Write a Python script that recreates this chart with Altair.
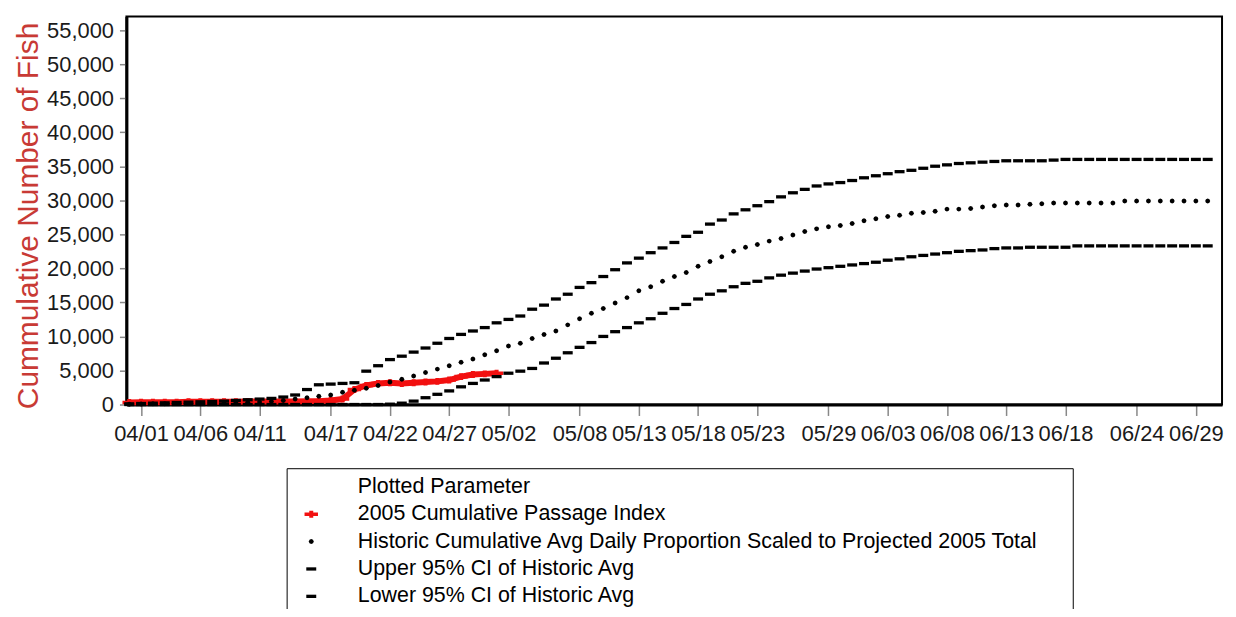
import altair as alt
import pandas as pd

# ---------------- data (values in thousands of fish) -------------
start_date = "2005-03-31"

upper_k = [0.1,
           0.15, 0.2, 0.25, 0.3, 0.35, 0.4, 0.45, 0.5, 0.6, 0.7, 0.8, 0.9, 1.1, 1.4, 2.2,
           2.9, 3.0, 3.1, 3.2, 4.9, 5.7, 6.6, 7.1, 7.7, 8.3, 9.0, 9.7, 10.3, 10.8, 11.3,
           12.0, 12.5, 13.0, 14.0, 14.6, 15.5, 16.2, 17.2, 17.9, 18.8, 19.8, 20.8, 21.5, 22.3, 23.0,
           23.8, 24.7, 25.3, 26.5, 27.1, 28.0, 28.6, 29.2, 29.8, 30.5, 31.1, 31.6, 32.1, 32.4, 32.6, 32.9,
           33.3, 33.6, 33.9, 34.2, 34.4, 34.7, 35.0, 35.2, 35.4, 35.5, 35.6, 35.7, 35.8, 35.8, 35.8,
           35.8, 35.9, 36.0, 36.0, 36.0, 36.0, 36.0, 36.0, 36.0, 36.0, 36.0, 36.0, 36.0, 36.0, 36.0]

mean_k = [0.05,
          0.08, 0.1, 0.12, 0.14, 0.16, 0.18, 0.2, 0.23, 0.27, 0.32, 0.38, 0.45, 0.6, 0.8, 1.0,
          1.2, 1.4, 1.8, 2.1, 2.4, 2.8, 3.3, 3.7, 4.2, 4.7, 5.2, 5.7, 6.2, 6.7, 7.3,
          7.9, 8.6, 9.0, 9.7, 10.3, 10.8, 11.7, 12.6, 13.4, 14.1, 14.9, 15.7, 16.7, 17.3, 18.1,
          18.8, 19.4, 20.3, 21.0, 21.7, 22.5, 23.1, 23.5, 24.0, 24.4, 24.9, 25.4, 25.8, 26.1, 26.3, 26.6,
          27.0, 27.3, 27.6, 27.8, 28.1, 28.2, 28.4, 28.7, 28.7, 28.8, 29.0, 29.2, 29.3, 29.3, 29.4,
          29.5, 29.6, 29.6, 29.6, 29.6, 29.6, 29.6, 29.9, 29.9, 29.9, 29.9, 29.9, 29.9, 29.9, 29.9]

lower_k = [0.0,
           0.0, 0.0, 0.0, 0.0, 0.0, 0.0, 0.0, 0.0, 0.0, 0.0, 0.0, 0.0, 0.0, 0.0, 0.0,
           0.0, 0.0, 0.0, 0.0, 0.0, 0.0, 0.05, 0.2, 0.5, 1.0, 1.5, 2.0, 2.6, 3.1, 3.6,
           4.1, 4.6, 4.9, 5.3, 6.1, 6.8, 7.6, 8.4, 9.1, 10.0, 10.7, 11.3, 12.0, 12.6, 13.4,
           14.1, 14.7, 15.5, 16.2, 16.7, 17.3, 17.8, 18.1, 18.6, 19.0, 19.3, 19.6, 19.9, 20.1, 20.3, 20.5,
           20.7, 20.9, 21.2, 21.4, 21.7, 21.9, 22.1, 22.3, 22.5, 22.6, 22.7, 22.9, 23.0, 23.0, 23.1,
           23.1, 23.1, 23.1, 23.3, 23.3, 23.3, 23.3, 23.3, 23.3, 23.3, 23.3, 23.3, 23.3, 23.3, 23.3]

passage_k = [0.3,
             0.35, 0.35, 0.35, 0.35, 0.4, 0.4, 0.4, 0.4, 0.4, 0.45, 0.45, 0.45, 0.45, 0.45, 0.5,
             0.5, 0.6, 0.8, 2.2, 2.8, 3.1, 3.2, 3.1, 3.2, 3.3, 3.4, 3.6, 4.1, 4.4, 4.5,
             4.6]

x_tick_dates = ["2005-04-01", "2005-04-06", "2005-04-11", "2005-04-17", "2005-04-22",
                "2005-04-27", "2005-05-02", "2005-05-08", "2005-05-13", "2005-05-18",
                "2005-05-23", "2005-05-29", "2005-06-03", "2005-06-08", "2005-06-13",
                "2005-06-18", "2005-06-24", "2005-06-29"]
y_ticks = [0, 5000, 10000, 15000, 20000, 25000, 30000, 35000, 40000, 45000, 50000, 55000]

S_HEAD = "Plotted Parameter"
S_PASS = "2005 Cumulative Passage Index"
S_MEAN = "Historic Cumulative Avg Daily Proportion Scaled to Projected 2005 Total"
S_UP = "Upper 95% CI of Historic Avg"
S_LO = "Lower 95% CI of Historic Avg"

# ---------------- table -------------------------------------------------------------------
rows = []
pass_dates = pd.date_range(start_date, periods=len(passage_k), freq="D")
for d, v in zip(pass_dates, passage_k):
    rows.append({"date": d, "fish": v * 1000, "series": S_PASS})
hist_dates = pd.date_range(start_date, periods=len(upper_k), freq="D")
for name, vals in [(S_MEAN, mean_k), (S_UP, upper_k), (S_LO, lower_k)]:
    for d, v in zip(hist_dates, vals):
        rows.append({"date": d, "fish": v * 1000, "series": name})
df = pd.DataFrame(rows)

# ---------------- style -------------------------------------------------------------------
FONT = "Liberation Sans"
RED = "#f21010"
TITLE_RED = "#c83a35"

DASH = "M-1,-0.33L1,-0.33L1,0.33L-1,0.33Z"
DOT = ("M0.5,0L0.35,0.35L0,0.5L-0.35,0.35L-0.5,0L-0.35,-0.35L0,-0.5L0.35,-0.35Z")
CROSS = ("M-1.35,-0.36L-0.4,-0.36L-0.4,-0.7L0.4,-0.7L0.4,-0.36L1.35,-0.36L1.35,0.36"
         "L0.4,0.36L0.4,0.7L-0.4,0.7L-0.4,0.36L-1.35,0.36Z")

order = [S_HEAD, S_PASS, S_MEAN, S_UP, S_LO]
color_scale = alt.Scale(domain=order, range=["rgba(0,0,0,0)", RED, "black", "black", "black"])
shape_scale = alt.Scale(domain=order, range=["circle", CROSS, DOT, DASH, DASH])

x_scale = alt.Scale(domain=[alt.DateTime(year=2005, month=3, date=30, hours=18, minutes=20),
                            alt.DateTime(year=2005, month=7, date=1, hours=5, minutes=0)])
y_scale = alt.Scale(domain=[0, 57000], nice=False)

x_axis = alt.Axis(
    values=[alt.DateTime(year=int(s[0:4]), month=int(s[5:7]), date=int(s[8:10])) for s in x_tick_dates],
    format="%m/%d", labelFont=FONT, labelFontSize=22, labelColor="#1a1a1a",
    tickColor="#888888", tickSize=11, tickWidth=1.5, labelPadding=8,
    domainColor="black", domainWidth=3, grid=False, labelOverlap=False,
    labelFlush=False, labelBound=False, title=None)

y_axis = alt.Axis(
    values=y_ticks, format=",.0f", labelFont=FONT, labelFontSize=22, labelColor="#1a1a1a",
    tickColor="#888888", tickSize=7, tickWidth=1.5, labelPadding=6,
    domainColor="black", domainWidth=3, grid=False,
    title="Cummulative Number of Fish", titleFont=FONT, titleFontSize=30,
    titleFontWeight="normal", titleColor=TITLE_RED, titleAngle=270,
    titleX=-89, titleY=200, titleAlign="center", titleBaseline="alphabetic")

legend = alt.Legend(
    title=" ", titleOrient="right", titlePadding=26, titleFontSize=10,
    orient="none", legendX=161, legendY=454, direction="vertical",
    padding=8, strokeColor="black", fillColor="white",
    labelFont=FONT, labelFontSize=21.5, labelColor="black", labelLimit=1000,
    symbolSize=100, symbolStrokeWidth=0, symbolOffset=6, labelOffset=36,
    rowPadding=4.5)

base = alt.Chart(df)
X = alt.X("date:T", scale=x_scale, axis=x_axis)
Y = alt.Y("fish:Q", scale=y_scale, axis=y_axis)

ribbon = base.transform_filter(alt.datum.series == S_PASS).mark_line(
    color=RED, strokeWidth=6).encode(x=X, y=Y)

points = base.mark_point(filled=True, size=100, opacity=1, strokeWidth=0).encode(
    x=X, y=Y,
    color=alt.Color("series:N", scale=color_scale, legend=legend),
    shape=alt.Shape("series:N", scale=shape_scale, legend=legend),
)

chart = alt.layer(ribbon, points).properties(
    width=1101, height=390,
    autosize=alt.AutoSizeParams(type="none"),
    padding={"left": 119, "top": 7, "right": 6, "bottom": 204},
).configure_view(stroke="black", strokeWidth=2)

chart.save("out.html", embed_options={"renderer": "svg", "actions": False})
